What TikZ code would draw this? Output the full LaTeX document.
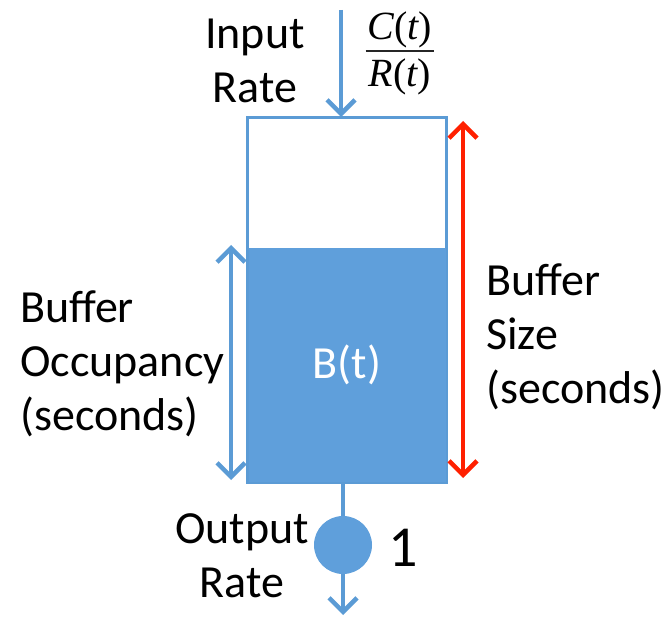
\documentclass[tikz,border=0pt]{standalone}
\usepackage{fontspec}
\setmainfont{Carlito}
\newfontfamily\tms{Liberation Serif}
\usetikzlibrary{arrows.meta}
\definecolor{ablue}{RGB}{91,155,213}
\definecolor{fblue}{RGB}{95,159,219}
\definecolor{ared}{RGB}{255,32,0}
\begin{document}
\begin{tikzpicture}[x=1pt,y=-1pt,
  lbl/.style={font=\fontsize{46}{54}\selectfont, align=center, inner sep=0pt},
  lbll/.style={font=\fontsize{46}{54}\selectfont, align=left, inner sep=0pt, anchor=west},
  tip/.style={-{Straight Barb[length=14pt,width=28pt]}},
  tips/.style={{Straight Barb[length=14pt,width=28pt]}-{Straight Barb[length=14pt,width=28pt]}},
  conn/.style={line width=4.5pt, ablue},
  frac/.style={font=\tms\fontsize{40}{44}\selectfont, inner sep=0pt}]
\useasboundingbox (0,0) rectangle (672,620);
% tank
\node[draw=ablue, line width=2pt, minimum width=198pt, minimum height=364pt, inner sep=0pt] (tank) at (347,300) {};
\node[fill=fblue, minimum width=197pt, minimum height=233pt, inner sep=0pt, text=white, font=\fontsize{46}{54}\selectfont] (level) at (347,365) {B(t)};
\draw[ablue, line width=2pt] (tank.north west) rectangle (tank.south east);
% input
\coordinate (inTop) at (341,10);
\draw[conn, tip] (inTop) -- (inTop |- tank.north);
\node[lbl] (inlbl) at (255,61) {Input\\Rate};
\node[frac] (cnum) at (400,30) {\itshape C\upshape(\itshape t\upshape)};
\node[frac] (rden) at (400,77) {\itshape R\upshape(\itshape t\upshape)};
\draw[line width=1.5pt, black!85] ([xshift=-2pt]cnum.west |- 0,51) coordinate (fl) -- ([xshift=2pt]cnum.east |- 0,51) coordinate (fr);
% buffer size
\coordinate (rTop) at (463,121);
\coordinate (rBot) at (463,478);
\draw[line width=4.5pt, ared, tips] (rTop) -- (rBot);
\node[lbll] (sizelbl) at (486,337) {Buffer\\Size\\(seconds)};
% occupancy
\coordinate (oTop) at (231,245);
\coordinate (oBot) at (231,480);
\draw[conn, tips] (oTop) -- (oBot);
\node[lbll] (occlbl) at (20,364) {Buffer\\Occupancy\\(seconds)};
% output
\node[circle, fill=fblue, minimum size=58pt, inner sep=0pt] (valve) at (343,545) {};
\draw[conn] (valve |- tank.south) -- (valve.north);
\coordinate (outEnd) at (343,615);
\draw[conn, tip] (valve.south) -- (outEnd);
\node[lbl] (outlbl) at (242,556) {Output\\Rate};
\node[inner sep=0pt, font=\fontsize{58}{60}\selectfont] (one) at (403,548) {1};
\end{tikzpicture}
\end{document}
